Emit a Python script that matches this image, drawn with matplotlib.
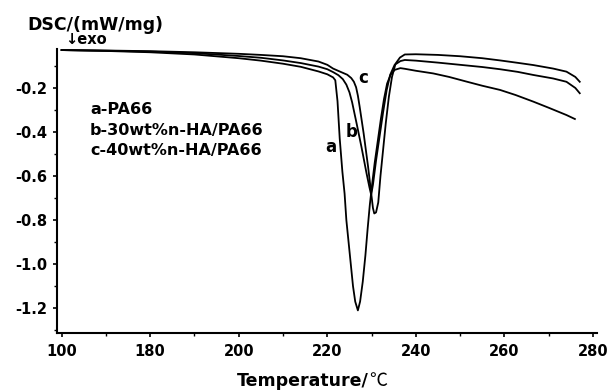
import matplotlib
matplotlib.use("Agg")
import matplotlib.pyplot as plt
from matplotlib.ticker import MultipleLocator

plt.rcParams['font.family'] = ['DejaVu Sans']
plt.rcParams['axes.unicode_minus'] = False

# ---- data ----
xtick_pos = [160, 180, 200, 220, 240, 260, 280]
xtick_labels = ['100', '180', '200', '220', '240', '260', '280']
ytick_pos = [-0.2, -0.4, -0.6, -0.8, -1.0, -1.2]
ytick_labels = ['-0.2', '-0.4', '-0.6', '-0.8', '-1.0', '-1.2']

series_names = ['a-PA66', 'b-30wt%n-HA/PA66', 'c-40wt%n-HA/PA66']

T_a = [160, 170, 180, 190, 200, 205, 210, 214, 218, 220, 221.3, 221.8, 222.3, 222.8,
       223.4, 223.9, 224.3, 224.8, 225.3, 225.8, 226.3, 226.9, 227.4, 228.0, 228.6,
       229.1, 229.6, 230.1, 230.7, 231.4, 232.1, 232.8, 233.5, 234.3, 235.2, 236.5,
       237.5, 240, 243.9, 247.5, 251.4, 255, 259, 262.5, 266.5, 270, 274, 275.9]
dsc_a = [-0.028, -0.032, -0.038, -0.048, -0.065, -0.076, -0.090, -0.104, -0.125, -0.138,
         -0.152, -0.165, -0.26, -0.43, -0.58, -0.68, -0.80, -0.90, -1.00, -1.10, -1.17,
         -1.21, -1.17, -1.08, -0.96, -0.84, -0.73, -0.64, -0.54, -0.44, -0.34, -0.25,
         -0.18, -0.14, -0.118, -0.11, -0.113, -0.122, -0.134, -0.15, -0.171, -0.19,
         -0.209, -0.232, -0.262, -0.29, -0.323, -0.341]

T_b = [160, 170, 180, 190, 200, 205, 210, 214, 218, 220, 221.3, 222.5, 223.5, 224.3,
       225.0, 225.6, 226.6, 227.7, 228.85, 229.5, 229.9, 230.3, 231.0, 231.8, 232.6,
       233.4, 234.2, 235.2, 236.5, 237.5, 240, 245, 250, 255, 259, 263, 266.5, 271,
       274, 276, 277]
dsc_b = [-0.028, -0.031, -0.035, -0.042, -0.055, -0.063, -0.075, -0.087, -0.103,
         -0.115, -0.128, -0.142, -0.16, -0.185, -0.22, -0.265, -0.36, -0.467, -0.587,
         -0.65, -0.685, -0.64, -0.53, -0.42, -0.31, -0.21, -0.14, -0.095, -0.078, -0.073,
         -0.076, -0.085, -0.095, -0.105, -0.115, -0.127, -0.141, -0.157, -0.172, -0.2,
         -0.224]

T_c = [160, 170, 180, 190, 200, 205, 210, 214, 218, 220, 221.3, 223, 224.5, 225.4,
       226.0, 226.5, 226.9, 227.3, 228.2, 229.2, 229.8, 230.3, 230.6, 231.0, 231.5,
       232.0, 232.6, 233.2, 233.9, 234.6, 235.4, 236.4, 237.5, 240, 245, 250, 255, 259,
       263, 266.5, 271, 274, 276, 277]
dsc_c = [-0.028, -0.030, -0.033, -0.038, -0.045, -0.050, -0.056, -0.065, -0.080,
         -0.095, -0.112, -0.127, -0.14, -0.155, -0.172, -0.197, -0.235, -0.285, -0.406,
         -0.557, -0.66, -0.745, -0.77, -0.765, -0.72, -0.60, -0.48, -0.36, -0.24, -0.15,
         -0.09, -0.062, -0.048, -0.047, -0.05, -0.056, -0.065, -0.075, -0.086, -0.096,
         -0.112, -0.126, -0.15, -0.172]

# ---- figure ----
fig = plt.figure(figsize=(6.1, 3.9), dpi=100)
ax = fig.add_axes([0.093, 0.1454, 0.885, 0.7282])

for T, d in [(T_a, dsc_a), (T_b, dsc_b), (T_c, dsc_c)]:
    ax.plot(T, d, color='black', lw=1.3, solid_joinstyle='round')

ax.set_xlim(158.9, 280.8)
ax.set_ylim(-1.314, -0.0245)

for s in ['top', 'right']:
    ax.spines[s].set_visible(False)
for s in ['left', 'bottom']:
    ax.spines[s].set_linewidth(1.5)

ax.set_xticks(xtick_pos)
ax.set_xticklabels(xtick_labels)
ax.set_yticks(ytick_pos)
ax.set_yticklabels(ytick_labels)
ax.xaxis.set_minor_locator(MultipleLocator(10))
ax.yaxis.set_minor_locator(MultipleLocator(0.1))
ax.tick_params(which='major', direction='out', length=3, width=1.2, labelsize=10.5, pad=4)
ax.tick_params(which='minor', direction='out', length=2, width=1.0)
ax.tick_params(axis='x', pad=5)
for lbl in ax.get_xticklabels() + ax.get_yticklabels():
    lbl.set_fontweight('bold')

# x-axis title: bold Latin part, CJK-style degree sign
t1 = fig.text(237 / 610, 1 - 381 / 390, 'Temperature/', fontsize=12.5,
              fontweight='bold', ha='left', va='center')
ax.annotate('℃', xy=(1.0, 0.5), xycoords=t1, ha='left', va='center',
            fontsize=13, family=['Noto Sans CJK SC', 'DejaVu Sans'],
            fontweight='light')

fig.text(0.045, 1 - 25 / 390, 'DSC/(mW/mg)', fontsize=12.5, fontweight='bold',
         ha='left', va='center')
fig.text(0.106, 1 - 40 / 390, '↓exo', fontsize=10.5, fontweight='bold',
         ha='left', va='center')

for i, name in enumerate(series_names):
    fig.text(90 / 610, 1 - (110 + 20.5 * i) / 390, name, fontsize=11.5,
             fontweight='bold', ha='left', va='center')

ax.text(220.9, -0.467, 'a', fontsize=12, fontweight='bold', ha='center', va='center')
ax.text(225.5, -0.40, 'b', fontsize=12, fontweight='bold', ha='center', va='center')
ax.text(228.1, -0.156, 'c', fontsize=12, fontweight='bold', ha='center', va='center')

fig.savefig('out.png', dpi=100, facecolor='white')
